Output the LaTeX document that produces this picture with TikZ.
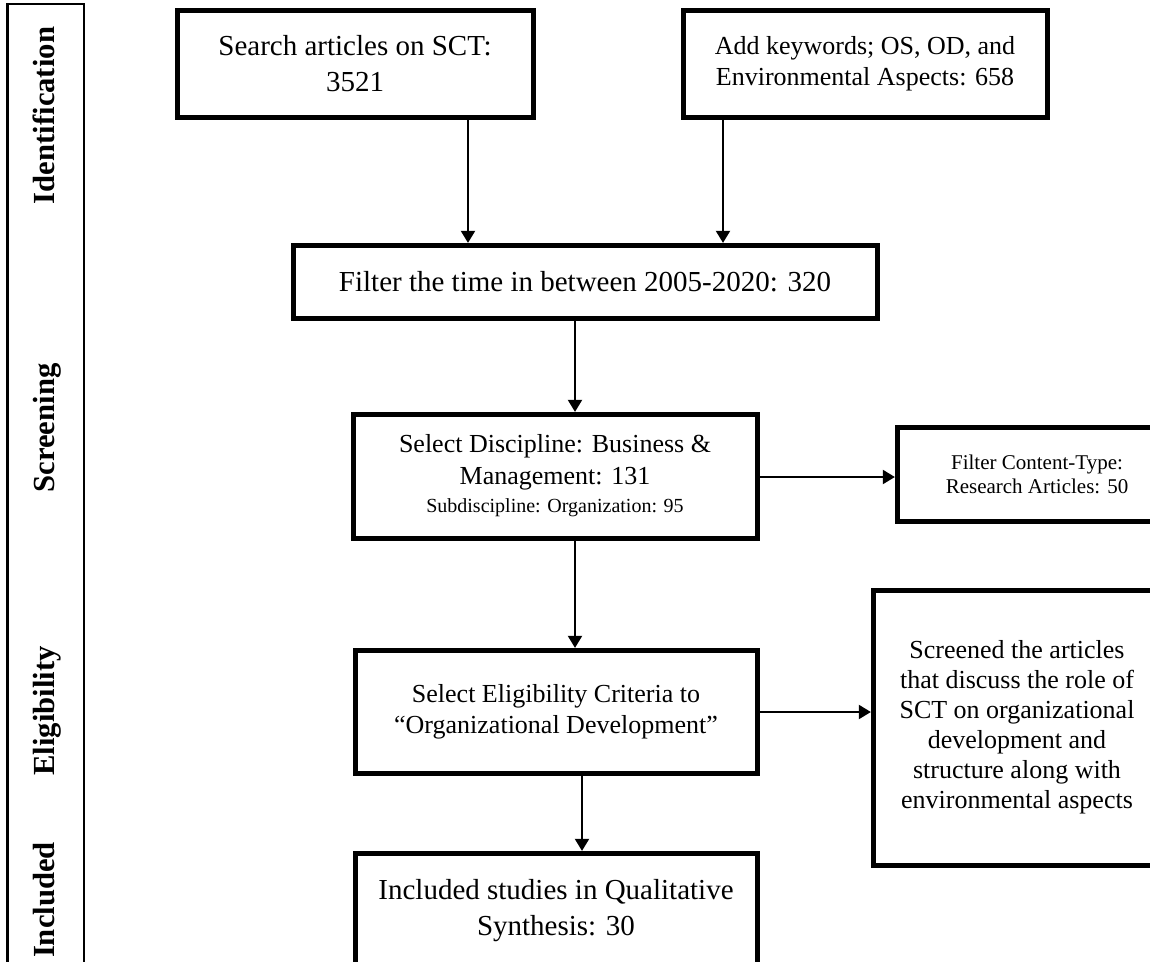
\documentclass[tikz,border=0pt]{standalone}
\usepackage{fontspec}
\setmainfont{Liberation Serif}
\usetikzlibrary{arrows.meta}
\begin{document}
\begin{tikzpicture}[x=0.75pt,y=-0.75pt,
  box/.style={draw, line width=3.75pt, align=center, inner sep=0pt, outer sep=0pt},
  big/.style={font=\fontsize{21.75}{26.5}\selectfont},
  mid/.style={font=\fontsize{19.5}{23.5}\selectfont},
  sml/.style={font=\fontsize{15.75}{18}\selectfont},
  lab/.style={font=\fontsize{23}{26}\selectfont\bfseries, rotate=90, inner sep=0pt, anchor=base},
  arr/.style={-{Triangle[length=9pt,width=10.5pt]}, line width=1.5pt, shorten >=1.6pt}
]
\useasboundingbox (0,0) rectangle (1150,961);
\clip (0,0) rectangle (1150,961);

% phase column
\draw[line width=1.6pt] (7.5,975) -- (7.5,4) -- (84,4) -- (84,975);
\node[lab] (lid) at (55,115.5) {Identification};
\node[lab] (lsc) at (55,428) {Screening};
\node[lab] (lel) at (55,711) {Eligibility};
\node[lab] (lin) at (55,900) {Included};

% boxes
\node[box, big, minimum width=267pt, minimum height=80.25pt] (b1) at (355,63.5)
  {Search articles on SCT:\\3521};
\node[box, mid, minimum width=273pt, minimum height=80.25pt] (b2) at (865,63.5)
  {Add keywords; OS, OD, and\\Environmental Aspects: 658};
\node[box, big, minimum width=438pt, minimum height=54.75pt] (flt) at (585,281.5)
  {Filter the time in between 2005-2020: 320};
\node[box, mid, minimum width=303pt, minimum height=93pt] (dis) at (555,476)
  {Select Discipline: Business \&\\Management: 131\\[-2pt]
   \fontsize{15}{17}\selectfont Subdiscipline: Organization: 95};
\node[box, sml, minimum width=210pt, minimum height=70.5pt] (ct) at (1037,474)
  {Filter Content-Type:\\Research Articles: 50};
\node[box, mid, minimum width=301.5pt, minimum height=92.25pt] (elg) at (556,711.5)
  {Select Eligibility Criteria to\\``Organizational Development''};
\node[box, minimum width=216pt, minimum height=206.25pt, font=\fontsize{19.5}{22.5}\selectfont] (scr) at (1017,727.5)
  {Screened the articles\\that discuss the role of\\SCT on organizational\\development and\\structure along with\\environmental aspects};
\node[box, big, minimum width=301.5pt, minimum height=86.25pt] (inc) at (556,910.5)
  {Included studies in Qualitative\\Synthesis: 30};

% connectors
\coordinate (x1) at (468,0);
\coordinate (x2) at (723,0);
\coordinate (x3) at (575,0);
\coordinate (x4) at (582,0);
\coordinate (y1) at (0,477);
\coordinate (y2) at (0,712);
\draw[arr] (b1.south -| x1) -- (flt.north -| x1);
\draw[arr] (b2.south -| x2) -- (flt.north -| x2);
\draw[arr] (flt.south -| x3) -- (dis.north -| x3);
\draw[arr] (dis.south -| x3) -- (elg.north -| x3);
\draw[arr] (elg.south -| x4) -- (inc.north -| x4);
\draw[arr] (dis.east |- y1) -- (ct.west |- y1);
\draw[arr] (elg.east |- y2) -- (scr.west |- y2);
\end{tikzpicture}
\end{document}
